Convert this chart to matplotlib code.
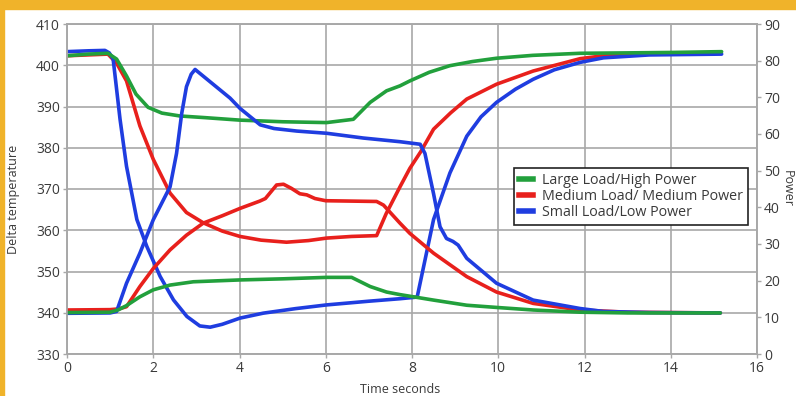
import matplotlib
matplotlib.use("Agg")
import matplotlib.pyplot as plt
from matplotlib.patches import Rectangle
from matplotlib.lines import Line2D

# temperature curves (left axis)
t_large_temp = [0, 0.5, 0.95, 1.15, 1.38, 1.6, 1.88, 2.2, 2.62, 3.2, 4.0, 5.0, 6.02, 6.64,
                7.03, 7.41, 7.72, 7.95, 8.4, 8.88, 9.4, 9.96, 10.8, 11.9, 13.0, 14.0, 15.18]
v_large_temp = [402.3, 402.7, 402.9, 401.5, 397.4, 393.0, 389.8, 388.4, 387.7, 387.3, 386.7, 386.3,
                386.1, 386.9, 391.0, 393.8, 395.0, 396.2, 398.3, 399.9, 400.9, 401.7, 402.4, 402.9,
                403.0, 403.1, 403.3]

t_medium_temp = [0, 0.95, 1.15, 1.38, 1.69, 2.0, 2.39, 2.77, 3.16, 3.6, 4.01, 4.5, 5.09, 5.6, 6.02,
                 6.6, 7.18, 7.4, 7.72, 7.95, 8.2, 8.5, 8.9, 9.27, 9.96, 10.81, 11.9, 12.44, 13.6, 15.15]
v_medium_temp = [402.3, 402.7, 400.5, 396.2, 385.3, 377.2, 369.0, 364.3, 361.8, 359.8, 358.5, 357.6,
                 357.1, 357.5, 358.1, 358.5, 358.7, 364.0, 370.5, 375.0, 379.0, 384.5, 388.5, 391.8,
                 395.4, 398.6, 401.6, 402.3, 402.8, 403.0]

t_small_temp = [0, 0.5, 0.88, 0.98, 1.07, 1.23, 1.38, 1.62, 1.85, 2.16, 2.47, 2.78, 3.08, 3.32, 3.6,
                4.01, 4.55, 5.3, 6.02, 7.0, 7.72, 8.12, 8.5, 8.88, 9.27, 9.6, 9.96, 10.4, 10.81, 11.3,
                11.9, 12.44, 13.5, 15.18]
v_small_temp = [403.3, 403.5, 403.6, 403.0, 401.5, 386.9, 375.5, 362.6, 356.1, 348.8, 343.1, 339.1,
                336.8, 336.5, 337.2, 338.7, 339.9, 341.0, 341.9, 342.8, 343.4, 343.8, 362.6, 373.9,
                382.8, 387.5, 391.0, 394.2, 396.6, 398.9, 400.7, 401.8, 402.5, 402.7]

# power curves (right axis)
t_large_pow = [0, 1.0, 1.2, 1.38, 1.69, 2.0, 2.39, 2.93, 4.01, 5.0, 6.02, 6.6, 7.03, 7.41, 7.72,
               8.5, 9.27, 9.96, 10.81, 11.9, 13.0, 15.15]
p_large_pow = [11.3, 11.4, 12.1, 13.2, 15.6, 17.5, 18.8, 19.7, 20.2, 20.5, 20.9, 20.9, 18.4, 16.9,
               16.2, 14.7, 13.3, 12.7, 12.0, 11.4, 11.2, 11.2]

t_medium_pow = [0, 1.0, 1.2, 1.38, 1.69, 2.0, 2.39, 2.77, 3.16, 3.6, 4.01, 4.47, 4.6, 4.86, 5.02,
                5.2, 5.4, 5.56, 5.75, 6.0, 7.18, 7.34, 7.72, 7.95, 8.5, 9.27, 9.96, 10.81, 11.9,
                13.0, 15.15]
p_medium_pow = [12.0, 12.1, 12.3, 12.9, 18.4, 23.3, 28.4, 32.4, 35.7, 37.7, 39.7, 41.7, 42.4, 46.1,
                46.3, 45.2, 43.7, 43.4, 42.4, 41.8, 41.6, 40.6, 35.7, 32.9, 27.5, 21.1, 16.9, 13.8,
                12.0, 11.4, 11.2]

t_small_pow = [0, 1.0, 1.15, 1.38, 1.69, 2.0, 2.39, 2.54, 2.66, 2.77, 2.88, 2.97, 3.78, 4.01, 4.48,
               4.8, 5.33, 6.02, 6.87, 7.72, 8.19, 8.3, 8.5, 8.65, 8.8, 8.95, 9.07, 9.27, 9.96,
               10.81, 11.9, 12.44, 13.5, 15.15]
p_small_pow = [11.1, 11.2, 11.6, 19.3, 27.5, 36.6, 45.6, 54.7, 65.6, 72.9, 76.3, 77.6, 69.8, 67.0,
               62.5, 61.5, 60.8, 60.2, 58.9, 57.9, 57.2, 54.7, 43.7, 34.7, 31.5, 30.7, 29.7, 26.1,
               19.3, 14.7, 12.4, 11.6, 11.3, 11.2]

labels = ["Large Load/High Power", "Medium Load/ Medium Power", "Small Load/Low Power"]
colors = ["#22a03c", "#e8201c", "#1f3de0"]

plt.rcParams["font.family"] = ["Open Sans", "DejaVu Sans"]
txt = "#3a3a3a"
gridc = "#a8a8a8"

fig = plt.figure(figsize=(7.96, 3.96), dpi=100)
fig.patches.append(Rectangle((0, 1 - 9 / 396), 1, 9 / 396, transform=fig.transFigure,
                             color="#f0b32a", zorder=0))
fig.patches.append(Rectangle((0, 0), 4 / 796, 1, transform=fig.transFigure,
                             color="#f0b32a", zorder=0))

ax = fig.add_axes([67 / 796, 1 - 354 / 396, 690 / 796, 330 / 396])
ax2 = ax.twinx()

lw = 2.6
style = dict(lw=lw, solid_joinstyle="round", solid_capstyle="round")
ax.plot(t_medium_temp, v_medium_temp, color=colors[1], **style)
ax.plot(t_small_temp, v_small_temp, color=colors[2], **style)
ax.plot(t_large_temp, v_large_temp, color=colors[0], **style)
ax2.plot(t_medium_pow, p_medium_pow, color=colors[1], **style)
ax2.plot(t_small_pow, p_small_pow, color=colors[2], **style)
ax2.plot(t_large_pow, p_large_pow, color=colors[0], **style)

ax.set_xlim(0, 16)
ax.set_ylim(330, 410)
ax2.set_ylim(0, 90)
ax.set_xticks(range(0, 17, 2))
ax.set_yticks(range(330, 411, 10))
ax2.set_yticks(range(0, 91, 10))
ax.grid(True, color=gridc, lw=1.2)

for a in (ax, ax2):
    for s in a.spines.values():
        s.set_color(gridc)
        s.set_linewidth(1.2)
    a.tick_params(colors=txt, labelsize=10, length=3, width=1, pad=2)
    a.tick_params(color=gridc)

ax.set_xlabel("Time seconds", fontsize=9, color=txt)
ax.xaxis.set_label_coords(0.483, -0.088)
ax.set_ylabel("Delta temperature", fontsize=9, color=txt)
ax.yaxis.set_label_coords(-0.068, 0.47)
ax2.set_ylabel("Power", fontsize=9, color=txt, rotation=270, va="center")
ax2.yaxis.set_label_coords(1.044, 0.5)

handles = [Line2D([], [], color=c, lw=4) for c in colors]
leg = ax2.legend(handles, labels, loc="upper left", bbox_to_anchor=(0.637, 0.585),
                 fontsize=10.3, frameon=True, fancybox=False, handlelength=1.0,
                 handletextpad=0.6, borderpad=0.35, labelspacing=0.05, framealpha=1)
leg.get_frame().set_edgecolor("#222222")
leg.get_frame().set_linewidth(1.2)
for t in leg.get_texts():
    t.set_color(txt)

fig.savefig("out.png", dpi=100)
